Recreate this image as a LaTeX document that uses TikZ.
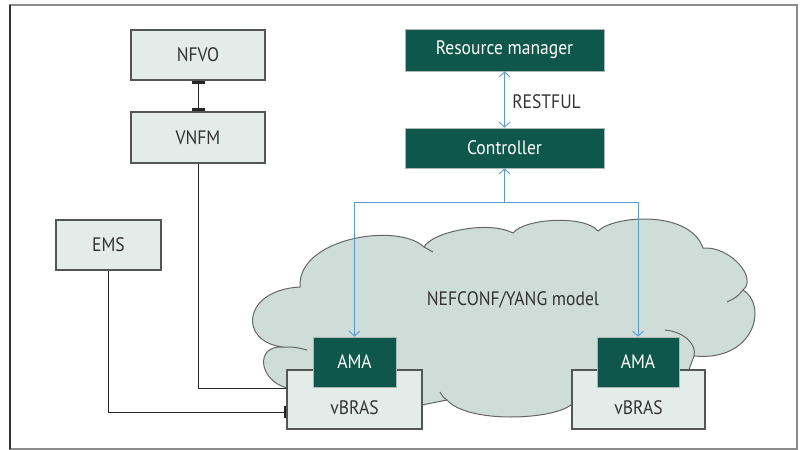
\documentclass[tikz,border=0pt]{standalone}
\usepackage{fontspec}
\setmainfont{PT Sans}[FakeStretch=0.9]
\usepackage{xcolor}
\usetikzlibrary{arrows.meta}

\definecolor{boxfill}{HTML}{E4ECE9}
\definecolor{boxline}{HTML}{555555}
\definecolor{darkfill}{HTML}{10574B}
\definecolor{darkline}{HTML}{AEB7B4}
\definecolor{cloudfill}{HTML}{CFDDD8}
\definecolor{cloudline}{HTML}{666666}
\definecolor{linkblue}{HTML}{5B9BD5}
\definecolor{textgray}{HTML}{333333}

\begin{document}
\begin{tikzpicture}[x = 1pt, y = -1pt, font = \fontsize{19.5}{22}\selectfont,
		lightbox/.style = {draw = boxline, fill = boxfill, line width = 1.2pt, text = textgray, inner sep = 0pt},
		darkbox/.style = {draw = darkline, fill = darkfill, line width = 0.8pt, text = white, inner sep = 0pt},
		bluelink/.style = {draw = linkblue, line width = 0.9pt},
		blacklink/.style = {draw = black!85, line width = 0.9pt},
		cloudedge/.style = {draw = cloudline, line width = 1pt},
		> = {Straight Barb[length = 5pt, width = 11pt]}]
			\useasboundingbox (0,0) rectangle (801,450);
			\draw [gray!90, line width = 1.4pt] (10,5) rectangle (797,449);
			\draw [black!80, line width = 1.4pt] (10,5) -- (10,449);

			\begin{scope}
				\node [lightbox, minimum width = 134pt, minimum height = 50pt] (nfvo) at (198,55) {NFVO};
				\node [lightbox, minimum width = 134pt, minimum height = 51pt] (vnfm) at (198,137.5) {VNFM};
				\node [lightbox, minimum width = 105pt, minimum height = 50pt] (ems) at (108.5,245) {EMS};
				\node [darkbox, minimum width = 199pt, minimum height = 42pt] (resmgr) at (504.5,50) {Resource manager};
				\node [darkbox, minimum width = 199pt, minimum height = 40pt] (ctrl) at (504.5,148) {Controller};
			\end{scope}

			\begin{scope}
				\filldraw [cloudedge, fill = cloudfill] (300,287)
					.. controls (297,238) and (398,222) .. (424,247)
					.. controls (432,232) and (488,220) .. (513,233)
					.. controls (525,218) and (585,215) .. (598,231)
					.. controls (615,215) and (690,210) .. (703,248)
					.. controls (730,246) and (758,278) .. (743,290)
					.. controls (768,305) and (755,362) .. (694,356)
					-- (688,372) -- (572,404)
					.. controls (555,420) and (468,424) .. (447,400)
					-- (422,405) -- (287,388)
					.. controls (258,380) and (255,345) .. (283,347)
					.. controls (238,342) and (242,290) .. (300,287) -- cycle;
				\draw [cloudedge] (424,247) .. controls (428,249) .. (433,252);
				\draw [cloudedge] (447,400) .. controls (443,397) .. (440,392);
				\draw [cloudedge] (665,330) .. controls (685,332) and (697,345) .. (694,356);
				\draw [cloudedge] (743,290) .. controls (737,297) .. (727,302);
				\draw [cloudedge] (283,347) .. controls (295,347) .. (307,350);
				\node [text = textgray] (model) at (513,300) {NEFCONF/YANG model};
			\end{scope}

			\coordinate (bus) at (504.5,202);

			\begin{scope}
				\node [lightbox, minimum width = 135pt, minimum height = 59pt, label = {[text = textgray, yshift = -8pt]center:vBRAS}] (vbrasL) at (354.5,399.5) {};
				\node [lightbox, minimum width = 133pt, minimum height = 59pt, label = {[text = textgray, yshift = -8pt]center:vBRAS}] (vbrasR) at (638.5,399.5) {};
				\node [darkbox, minimum width = 83pt, minimum height = 50pt] (amaL) at (354.5,362) {AMA};
				\node [darkbox, minimum width = 82pt, minimum height = 50pt] (amaR) at (638,362) {AMA};
			\end{scope}

			\begin{scope}
				\draw [bluelink, <->] (resmgr) -- (ctrl) node [midway, right, xshift = 4pt, yshift = -2pt, text = textgray] {RESTFUL};
				\draw [bluelink, <->] (ctrl.south) -- (bus) -| (amaL.north);
				\draw [bluelink, ->] (bus) -| (amaR.north);
			\end{scope}

			\begin{scope}
				\draw [blacklink, {Bar[width = 13pt, line width = 3pt]}-{Bar[width = 13pt, line width = 3pt]}] (nfvo) -- (vnfm);
				\draw [blacklink] (vnfm.south) |- ([yshift = 11.5pt]vbrasL.west);
				\draw [blacklink, -{Bar[width = 12pt, line width = 2pt]}] (ems.south) |- ([yshift = -12.5pt]vbrasL.west);
			\end{scope}
		\end{tikzpicture}
\end{document}
